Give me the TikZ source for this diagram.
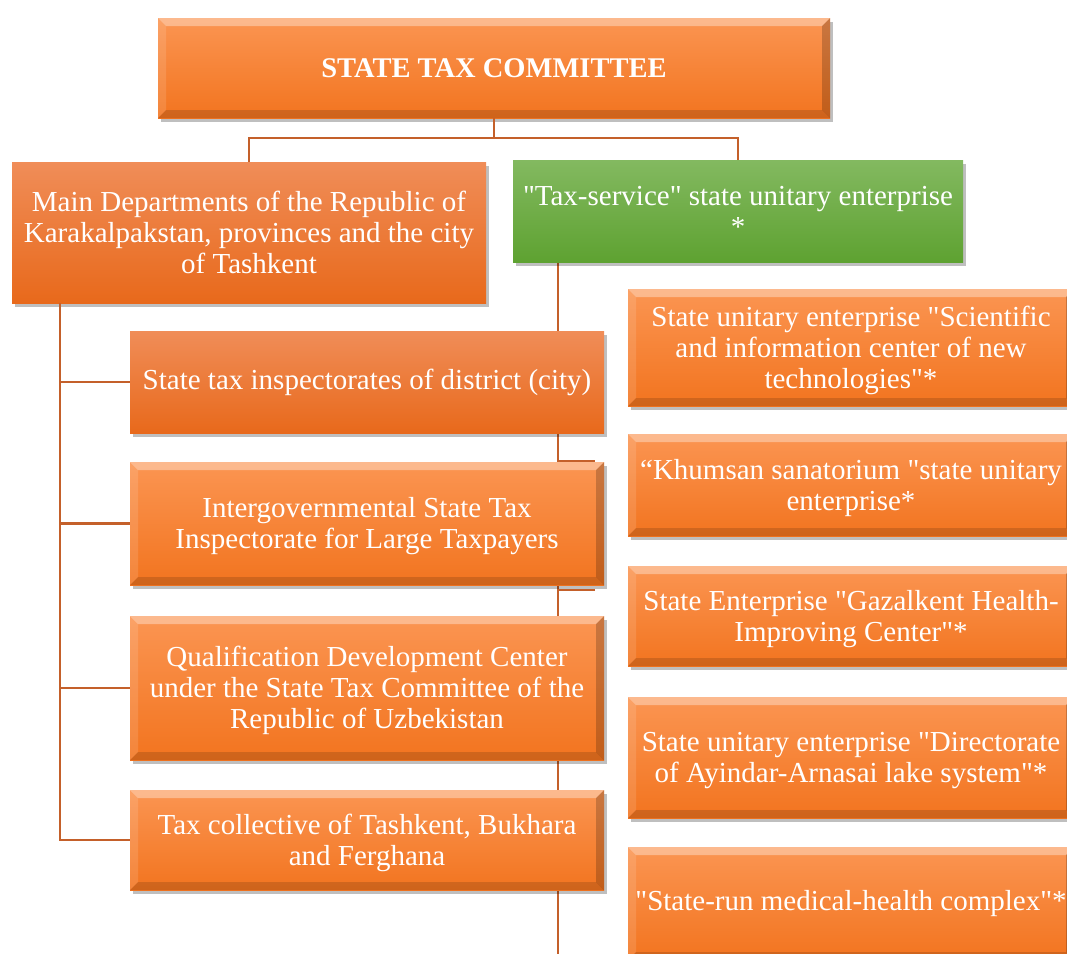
\documentclass[tikz,border=0pt]{standalone}
\usepackage{fontspec}
\setmainfont{Liberation Serif}
\usetikzlibrary{shadows}
\definecolor{ln}{HTML}{C4602A}
\definecolor{obt}{HTML}{FB9552}
\definecolor{obb}{HTML}{F2741F}
\definecolor{oft}{HTML}{F08D58}
\definecolor{ofb}{HTML}{E8691B}
\definecolor{gt}{HTML}{83B960}
\definecolor{gb}{HTML}{5EA231}
\newcommand\dq{\textquotedbl{}}
\newcommand\dn[1]{\raisebox{-3.5pt}[\height][\depth]{\begin{tabular}{@{}c@{}}#1\end{tabular}}}
\tikzset{
  box/.style={rectangle, inner sep=0pt, text=white, align=center,
    font=\fontsize{29}{31}\selectfont,
    drop shadow={shadow xshift=3pt, shadow yshift=-4pt, opacity=.25, fill=black}},
  flat/.style={box, top color=oft, bottom color=ofb},
  green/.style={box, top color=gt, bottom color=gb},
  bev/.style={box, top color=obt, bottom color=obb,
    path picture={
      \fill[white,opacity=.35] (path picture bounding box.north west) -- (path picture bounding box.north east) -- ++(-8,8) -- ([shift={(8,8)}]path picture bounding box.north west) -- cycle;
      \fill[white,opacity=.12] (path picture bounding box.north west) -- (path picture bounding box.south west) -- ++(8,-8) -- ([shift={(8,8)}]path picture bounding box.north west) -- cycle;
      \fill[black,opacity=.14] (path picture bounding box.south west) -- (path picture bounding box.south east) -- ++(-8,-8) -- ([shift={(8,-8)}]path picture bounding box.south west) -- cycle;
      \fill[black,opacity=.2] (path picture bounding box.north east) -- (path picture bounding box.south east) -- ++(-8,-8) -- ([shift={(-8,8)}]path picture bounding box.north east) -- cycle;
    }},
  conn/.style={draw=ln, line width=2.6pt}
}
\begin{document}
\begin{tikzpicture}[x=1pt,y=-1pt]
\useasboundingbox (0,0) rectangle (1067,953);
\fill[white] (0,0) rectangle (1067,953);
\clip (0,0) rectangle (1067,953);

% right trunk (behind boxes)
\coordinate (rtop) at (558,262);
\coordinate (rbot) at (558,960);
\draw[conn] (rtop) -- (rbot);
\coordinate (s1) at (595,461);
\coordinate (s2) at (595,590);
\draw[conn] (s1 -| rtop) -- (s1);
\draw[conn] (s2 -| rtop) -- (s2);

% nodes
\node[bev, minimum width=672pt, minimum height=100pt, font=\fontsize{28.5}{31}\selectfont\bfseries] (top) at (494,68) {STATE TAX COMMITTEE};
\node[flat, minimum width=474pt, minimum height=141pt] (main) at (249,232.5) {Main Departments of the Republic of\\Karakalpakstan, provinces and the city\\of Tashkent};
\node[green, minimum width=450pt, minimum height=102pt] (grn) at (738,211) {\dq Tax-service\dq\ state unitary enterprise\\*};

\node[flat, minimum width=474pt, minimum height=102pt] (A) at (367,382) {State tax inspectorates of district (city)};
\node[bev, minimum width=474pt, minimum height=123pt] (B) at (367,523.5) {\dn{Intergovernmental State Tax\\Inspectorate for Large Taxpayers}};
\node[bev, minimum width=474pt, minimum height=144pt] (C) at (367,688) {\dn{Qualification Development Center\\under the State Tax Committee of the\\Republic of Uzbekistan}};
\node[bev, minimum width=474pt, minimum height=100pt] (D) at (367,840) {\dn{Tax collective of Tashkent, Bukhara\\and Ferghana}};

\node[bev, minimum width=446pt, minimum height=117pt] (R1) at (851,347.5) {\dn{State unitary enterprise \dq Scientific\\and information center of new\\technologies\dq*}};
\node[bev, minimum width=446pt, minimum height=102pt] (R2) at (851,485) {\dn{“Khumsan sanatorium \dq state unitary\\enterprise*}};
\node[bev, minimum width=446pt, minimum height=100pt] (R3) at (851,616) {\dn{State Enterprise \dq Gazalkent Health-\\Improving Center\dq*}};
\node[bev, minimum width=446pt, minimum height=121pt] (R4) at (851,757.5) {\dn{State unitary enterprise \dq Directorate\\of Ayindar-Arnasai lake system\dq*}};
\node[bev, minimum width=446pt, minimum height=113pt] (R5) at (851,903.5) {\dq State-run medical-health complex\dq*};

% top connectors
\coordinate (j) at (494,138);
\draw[conn] (top.south) -- (j);
\draw[conn] (j) -| (main.north);
\draw[conn] (j) -| (grn.north);

% left trunk
\coordinate (ltop) at (60,303);
\draw[conn] (ltop) |- (D.west);
\draw[conn] (A.west -| ltop) -- (A.west);
\draw[conn] (B.west -| ltop) -- (B.west);
\draw[conn] (C.west -| ltop) -- (C.west);
\end{tikzpicture}
\end{document}
